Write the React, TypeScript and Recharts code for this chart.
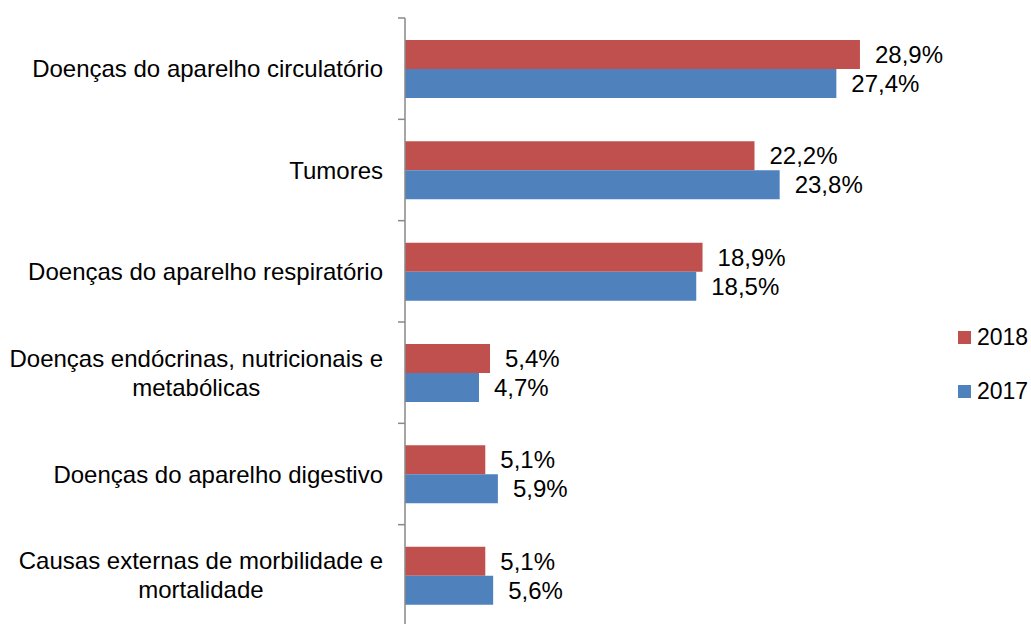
import React from "react";
import { BarChart, Bar, XAxis, YAxis, LabelList } from "recharts";

const categories = [
  "Doenças do aparelho circulatório",
  "Tumores",
  "Doenças do aparelho respiratório",
  "Doenças endócrinas, nutricionais e\nmetabólicas",
  "Doenças do aparelho digestivo",
  "Causas externas de morbilidade e\nmortalidade",
];
const values2018 = [28.9, 22.2, 18.9, 5.4, 5.1, 5.1];
const values2017 = [27.4, 23.8, 18.5, 4.7, 5.9, 5.6];
const seriesNames = ["2018", "2017"];

const COLORS = { s2018: "#C0504D", s2017: "#4F81BD" };
const FONT = "'Liberation Sans', Arial, sans-serif";
const FONT_SIZE = 24;

const WIDTH = 1031;
const HEIGHT = 630;
const MARGIN = { top: 18, right: 75, bottom: 4, left: 0 };
const AXIS_W = 405;
const PLOT_H = HEIGHT - MARGIN.top - MARGIN.bottom;
const BAND = PLOT_H / categories.length;

const data = categories.map((name, i) => ({
  name,
  s2018: values2018[i],
  s2017: values2017[i],
}));

let ctx: CanvasRenderingContext2D | null = null;
function measure(text: string) {
  if (!ctx) ctx = document.createElement("canvas").getContext("2d");
  if (!ctx) return text.length * FONT_SIZE * 0.5;
  ctx.font = `${FONT_SIZE}px ${FONT}`;
  return ctx.measureText(text).width;
}

const fmt = (v: any) => `${Number(v).toFixed(1).replace(".", ",")}%`;

function CategoryTick(props: any) {
  const { y, payload, index } = props;
  const lines: string[] = String(payload.value).split("\n");
  // the category axis sits at the right edge of the YAxis area
  const axisX = AXIS_W + MARGIN.left;
  const right = axisX - 22;
  const maxW = Math.max(...lines.map(measure));
  const cx = right - maxW / 2;
  const lh = 29;
  const top = y - BAND / 2;
  return (
    <g>
      <line x1={axisX - 7} x2={axisX} y1={top} y2={top} stroke="#898989" strokeWidth={1.5} />
      {index === categories.length - 1 && (
        <line x1={axisX - 7} x2={axisX} y1={top + BAND} y2={top + BAND} stroke="#898989" strokeWidth={1.5} />
      )}
      {lines.map((l, i) => (
        <text
          key={i}
          x={cx}
          y={y + (i - (lines.length - 1) / 2) * lh}
          textAnchor="middle"
          dominantBaseline="central"
          fontFamily={FONT}
          fontSize={FONT_SIZE}
          fill="#000"
        >
          {l}
        </text>
      ))}
    </g>
  );
}

function LegendBox() {
  const items = [
    { name: seriesNames[0], color: COLORS.s2018 },
    { name: seriesNames[1], color: COLORS.s2017 },
  ];
  return (
    <div style={{ position: "absolute", left: 958, top: 324 }}>
      {items.map((it) => (
        <div key={it.name} style={{ display: "flex", alignItems: "center", height: 27, marginBottom: 27 }}>
          <div style={{ width: 13, height: 13, background: it.color, marginRight: 6 }} />
          <span style={{ fontFamily: FONT, fontSize: 23, color: "#000" }}>{it.name}</span>
        </div>
      ))}
    </div>
  );
}

export default function App() {
  return (
    <div
      style={{
        position: "fixed",
        top: 0,
        left: 0,
        width: WIDTH,
        height: 624,
        overflow: "hidden",
        background: "#fff",
      }}
    >
      <BarChart
        width={WIDTH}
        height={HEIGHT}
        data={data}
        layout="vertical"
        margin={MARGIN}
        barGap={0}
        barSize={29}
      >
        <XAxis type="number" domain={[0, 35]} hide />
        <YAxis
          type="category"
          dataKey="name"
          width={AXIS_W}
          axisLine={{ stroke: "#898989", strokeWidth: 1.5 }}
          tickLine={false}
          tick={<CategoryTick />}
          interval={0}
        />
        <Bar dataKey="s2018" name={seriesNames[0]} fill={COLORS.s2018} isAnimationActive={false}>
          <LabelList
            dataKey="s2018"
            position="right"
            offset={15}
            formatter={fmt}
            style={{ fontFamily: FONT, fontSize: 24, fill: "#000" }}
          />
        </Bar>
        <Bar dataKey="s2017" name={seriesNames[1]} fill={COLORS.s2017} isAnimationActive={false}>
          <LabelList
            dataKey="s2017"
            position="right"
            offset={15}
            formatter={fmt}
            style={{ fontFamily: FONT, fontSize: 24, fill: "#000" }}
          />
        </Bar>
      </BarChart>
      <LegendBox />
    </div>
  );
}
